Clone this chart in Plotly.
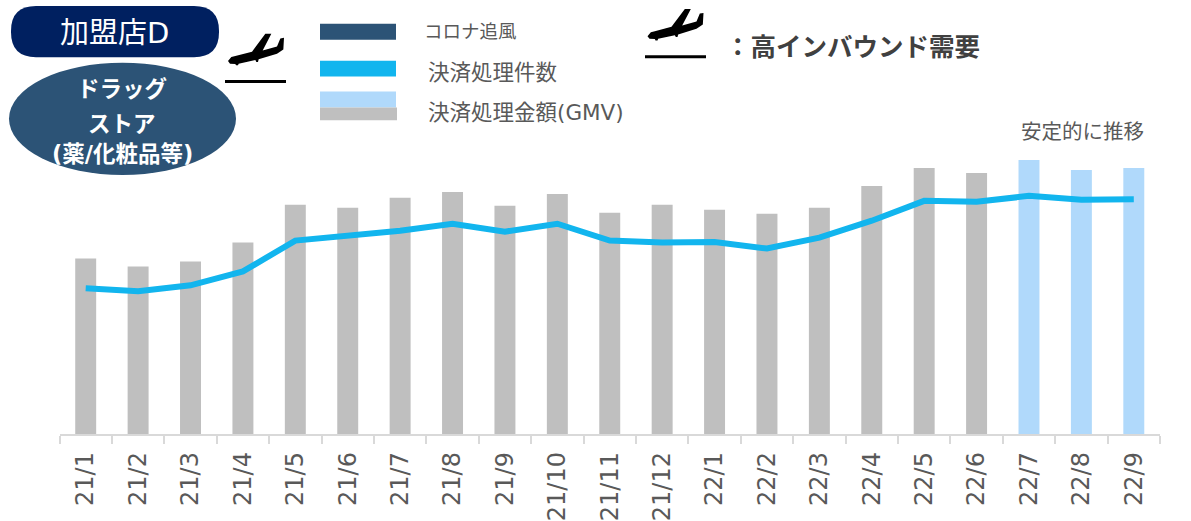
import plotly.graph_objects as go

months = ["21/1","21/2","21/3","21/4","21/5","21/6","21/7","21/8","21/9","21/10","21/11","21/12",
          "22/1","22/2","22/3","22/4","22/5","22/6","22/7","22/8","22/9"]
gmv = [177,169,174,193,231,228,238,244,230,242,223,231,226,222,228,250,268,263,276,266,268]
transactions = [147,144,150,164,195,200,205,212,204,212,195,193,193.5,187,198,215,235,234,240,236,236.5]
highlighted_months = {"22/7","22/8","22/9"}

W, H = 1191, 521
GREY, LIGHT, CYAN, NAVY, STEEL = "#BFBFBF", "#B0D9FB", "#12B5EE", "#002060", "#2C5376"
TXT = "#595959"
JP = "DejaVu Sans, Noto Sans CJK JP"

def X(p): return p / W
def Y(p): return 1 - p / H

PLANE = [("M",18,100),("L",28,88),("L",40,85),("L",90,72),("L",130,18),("L",148,18),("L",122,68),
         ("L",165,56),("L",175,32),("L",186,30),("L",184,65),("L",165,78),("L",110,95),("L",108,103),
         ("L",103,103),("L",100,97),("L",50,108),("L",48,113),("L",42,113),("L",40,109),("L",24,108)]

def plane_path(ox, oy):
    return " ".join(f"{c} {X(ox + a / 3):.5f} {Y(oy + b / 3):.5f}" for c, a, b in PLANE) + " Z"

def rect(x0, y0, x1, y1, color):
    return dict(type="rect", xref="paper", yref="paper", x0=X(x0), x1=X(x1), y0=Y(y0), y1=Y(y1),
                fillcolor=color, line_width=0, layer="above")

def pill(x0, y0, x1, y1, r, color):
    pts = [f"M {X(x0+r)} {Y(y0)}", f"L {X(x1-r)} {Y(y0)}", f"Q {X(x1)} {Y(y0)} {X(x1)} {Y(y0+r)}",
           f"L {X(x1)} {Y(y1-r)}", f"Q {X(x1)} {Y(y1)} {X(x1-r)} {Y(y1)}", f"L {X(x0+r)} {Y(y1)}",
           f"Q {X(x0)} {Y(y1)} {X(x0)} {Y(y1-r)}", f"L {X(x0)} {Y(y0+r)}", f"Q {X(x0)} {Y(y0)} {X(x0+r)} {Y(y0)} Z"]
    return dict(type="path", xref="paper", yref="paper", path=" ".join(pts), fillcolor=color, line_width=0)

def hline(x0, x1, y):
    return dict(type="line", xref="paper", yref="paper", x0=X(x0), x1=X(x1), y0=Y(y), y1=Y(y),
                line=dict(color="#000000", width=3))

def label(x, y, text, size, color=TXT, bold=False, anchor="left"):
    t = f"<b>{text}</b>" if bold else text
    return dict(xref="paper", yref="paper", x=X(x), y=Y(y), text=t, showarrow=False, xanchor=anchor,
                yanchor="middle", font=dict(family=JP, size=size, color=color))

fig = go.Figure()
fig.add_bar(x=months, y=gmv, name="決済処理金額(GMV)", width=0.4,
            marker=dict(color=[LIGHT if m in highlighted_months else GREY for m in months], line_width=0))
fig.add_scatter(x=months, y=transactions, name="決済処理件数", mode="lines",
                line=dict(color=CYAN, width=6))

shapes = [
    pill(11, 6, 219, 57.5, 25, NAVY),
    dict(type="circle", xref="paper", yref="paper", x0=X(9), x1=X(236), y0=Y(63), y1=Y(176),
         fillcolor=STEEL, line_width=0),
    rect(320, 24, 396, 40, STEEL), rect(320, 61, 396, 77, CYAN),
    rect(320, 92, 396, 108, LIGHT), rect(320, 108, 397, 121, GREY),
    hline(225, 286, 82), hline(645, 706, 57),
    dict(type="path", xref="paper", yref="paper", path=plane_path(222, 28), fillcolor="#000000", line_width=0),
    dict(type="path", xref="paper", yref="paper", path=plane_path(641.5, 3), fillcolor="#000000", line_width=0),
]

annotations = [
    label(114, 33, "加盟店D", 29, "#FFFFFF", anchor="center"),
    label(122, 90, "ドラッグ", 22.5, "#FFFFFF", True, "center"),
    label(122, 125, "ストア", 22.5, "#FFFFFF", True, "center"),
    label(122, 155, "(薬/化粧品等)", 22.5, "#FFFFFF", True, "center"),
    label(422, 32, "コロナ追風", 18.5),
    label(426, 73, "決済処理件数", 21.5),
    label(426, 113, "決済処理金額(GMV)", 21.5),
    label(723, 47, "：高インバウンド需要", 25.5, "#404040", True),
    label(1019, 133, "安定的に推移", 20.5),
]

fig.update_layout(
    width=W, height=H, margin=dict(l=0, r=0, t=0, b=0), autosize=False,
    paper_bgcolor="#FFFFFF", plot_bgcolor="#FFFFFF", showlegend=False,
    shapes=shapes, annotations=annotations,
    xaxis=dict(domain=[X(59.5), X(1160)], type="category", tickson="boundaries", ticks="outside",
               ticklen=8, tickwidth=2, tickcolor="#D9D9D9", showline=True, linecolor="#D9D9D9",
               linewidth=2, tickangle=-90, anchor="y", showgrid=False, ticklabelstandoff=6,
               tickfont=dict(family="DejaVu Sans", size=24, color=TXT)),
    yaxis=dict(domain=[Y(437), Y(137)], range=[0, 300], visible=False, showgrid=False, zeroline=False),
)

fig.write_html("out.html", config={"displayModeBar": False},
               post_script="document.body.style.margin='0';document.body.style.overflow='hidden';")
